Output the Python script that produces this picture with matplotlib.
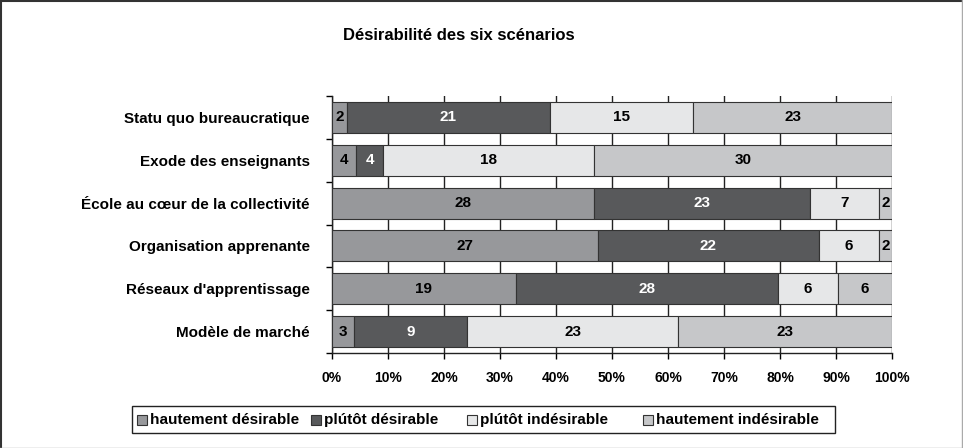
import numpy as np
import matplotlib.pyplot as plt
from matplotlib.lines import Line2D
from matplotlib.patches import Rectangle

plt.rcParams['font.family'] = ['Liberation Sans', 'DejaVu Sans']
plt.rcParams['font.weight'] = 'bold'

# Data: bar lengths (% of row) and the printed counts
scenarios = ['Statu quo bureaucratique', 'Exode des enseignants',
             'École au cœur de la collectivité', 'Organisation apprenante',
             "Réseaux d'apprentissage", 'Modèle de marché']
categories = ['hautement désirable', 'plútôt désirable',
              'plútôt indésirable', 'hautement indésirable']
haut_des_pct = [2.6, 4.3, 46.8, 47.5, 32.8, 4.0]
plutot_des_pct = [36.4, 4.8, 38.5, 39.4, 46.9, 20.1]
plutot_indes_pct = [25.5, 37.6, 12.3, 10.7, 10.6, 37.7]
haut_indes_pct = [35.5, 53.3, 2.4, 2.4, 9.7, 38.2]
haut_des_n = [2, 4, 28, 27, 19, 3]
plutot_des_n = [21, 4, 23, 22, 28, 9]
plutot_indes_n = [15, 18, 7, 6, 6, 23]
haut_indes_n = [23, 30, 2, 2, 6, 23]
tick_labels = ['0%', '10%', '20%', '30%', '40%', '50%',
               '60%', '70%', '80%', '90%', '100%']

colors = ['#97989b', '#58595b', '#e6e7e8', '#c6c7c9']
text_colors = ['black', 'white', 'black', 'black']

shares = [haut_des_pct, plutot_des_pct, plutot_indes_pct, haut_indes_pct]
counts = [haut_des_n, plutot_des_n, plutot_indes_n, haut_indes_n]

fig = plt.figure(figsize=(9.63, 4.48), dpi=100)
ax = fig.add_axes([332 / 963, 1 - 353 / 448, 560 / 963, 257 / 448])

y = np.arange(len(scenarios))
left = np.zeros(len(scenarios))
for i, cat in enumerate(categories):
    vals = np.array(shares[i])
    ax.barh(y, vals, left=left, height=0.72, color=colors[i],
            edgecolor='#333333', linewidth=0.8, label=cat, zorder=3)
    for j in range(len(scenarios)):
        ax.text(left[j] + vals[j] / 2, y[j], str(counts[i][j]),
                ha='center', va='center', fontsize=11, fontweight='bold',
                color=text_colors[i], zorder=4)
    left += vals

ax.set_xlim(0, 100)
ax.set_ylim(len(scenarios) - 0.5, -0.5)
ax.set_xticks(np.arange(0, 101, 10))
ax.set_xticklabels(tick_labels, fontsize=10, fontweight='bold')
ax.set_yticks(y)
ax.set_yticklabels(scenarios, fontsize=11, fontweight='bold')
ax.set_yticks(np.arange(-0.5, len(scenarios), 1), minor=True)
ax.tick_params(axis='y', which='major', length=0, pad=16)
ax.tick_params(axis='y', which='minor', length=4, direction='out', width=1)
ax.tick_params(axis='x', length=4, direction='out', width=1, pad=9)

ax.grid(axis='x', color='#222222', linewidth=1, zorder=1)
for s in ['top', 'right']:
    ax.spines[s].set_visible(False)
for s in ['left', 'bottom']:
    ax.spines[s].set_color('#222222')
    ax.spines[s].set_linewidth(1)

fig.text(459 / 963, 1 - 35 / 448, 'Désirabilité des six scénarios',
         ha='center', va='center', fontsize=12, fontweight='bold')

# legend box, laid out like the original
W, H = 963, 448
fig.add_artist(Rectangle((132 / W, 1 - 433 / H), 703 / W, 27 / H, fill=False,
                         edgecolor='#222222', linewidth=1, transform=fig.transFigure))
square_x = [137, 311, 467, 643]
for c, lab, sx in zip(colors, categories, square_x):
    fig.add_artist(Rectangle((sx / W, 1 - 425 / H), 10 / W, 10 / H, facecolor=c,
                             edgecolor='#333333', linewidth=0.8,
                             transform=fig.transFigure))
    fig.text((sx + 13) / W, 1 - 420 / H, lab, ha='left', va='center',
             fontsize=11, fontweight='bold')

# figure frame
fig.add_artist(Line2D([0.001, 0.001], [0, 1], color='#333333', lw=1.5, transform=fig.transFigure))
fig.add_artist(Line2D([0, 1], [0.998, 0.998], color='#333333', lw=1.5, transform=fig.transFigure))
fig.add_artist(Line2D([0.999, 0.999], [0, 1], color='#aaaaaa', lw=1, transform=fig.transFigure))
fig.add_artist(Line2D([0, 1], [0.001, 0.001], color='#aaaaaa', lw=1, transform=fig.transFigure))

fig.savefig('out.png', dpi=100)
